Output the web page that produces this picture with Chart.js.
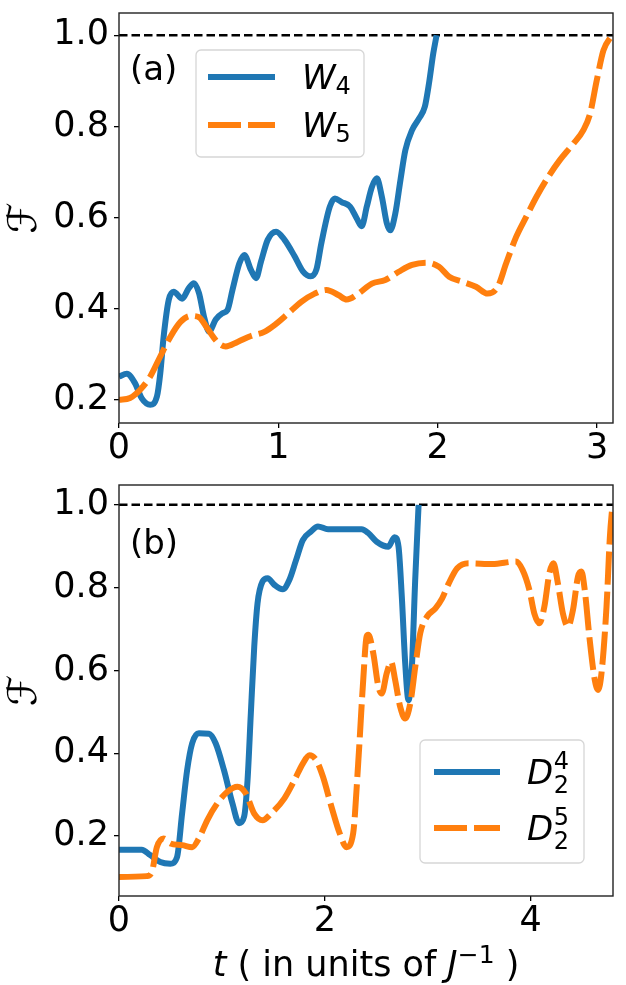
<!DOCTYPE html>
<html>
<head>
<meta charset="utf-8">
<script src="https://cdn.jsdelivr.net/npm/chart.js@4.4.1/dist/chart.umd.min.js"></script>
<style>
  body { margin: 0; background: #fff; }
  #wrap { position: relative; width: 626px; height: 985px; }
  canvas { position: absolute; left: 0; }
</style>
</head>
<body>
<div id="wrap">
  <canvas id="panelA" width="626" height="470" style="top:0"></canvas>
  <canvas id="panelB" width="626" height="515" style="top:470px"></canvas>
</div>
<script>
const blue = '#1f77b4';
const orange = '#ff7f0e';
const family = "'DejaVu Sans', sans-serif";
const tickSize = 35;

// panel (a): W4 and W5
const w4Time = [0, 0.049, 0.101, 0.143, 0.196, 0.238, 0.259, 0.280, 0.312, 0.343, 0.396, 0.438, 0.470, 0.502,
    0.533, 0.565, 0.607, 0.649, 0.681, 0.712, 0.755, 0.786, 0.828, 0.860, 0.891, 0.933, 0.986, 1.039, 1.102,
    1.154, 1.203, 1.239, 1.270, 1.323, 1.355, 1.397, 1.450, 1.492, 1.523, 1.555, 1.587, 1.618, 1.650, 1.681,
    1.702, 1.734, 1.766, 1.797, 1.839, 1.882, 1.919, 1.945, 1.972, 1.993];
const w4Fid = [0.251, 0.257, 0.236, 0.203, 0.189, 0.207, 0.258, 0.338, 0.419, 0.437, 0.422, 0.445, 0.456, 0.434,
    0.383, 0.350, 0.376, 0.390, 0.397, 0.441, 0.499, 0.518, 0.485, 0.467, 0.503, 0.551, 0.569, 0.551, 0.515,
    0.482, 0.471, 0.486, 0.544, 0.624, 0.642, 0.634, 0.624, 0.598, 0.581, 0.624, 0.667, 0.686, 0.645, 0.587,
    0.572, 0.609, 0.682, 0.748, 0.792, 0.817, 0.843, 0.894, 0.960, 1.0];
const w5Time = [0, 0.069, 0.133, 0.196, 0.259, 0.322, 0.386, 0.449, 0.502, 0.554, 0.617, 0.670, 0.744, 0.828,
    0.912, 0.976, 1.060, 1.144, 1.228, 1.302, 1.376, 1.429, 1.502, 1.587, 1.671, 1.755, 1.839, 1.930, 2.008,
    2.072, 2.156, 2.240, 2.313, 2.377, 2.429, 2.493, 2.556, 2.619, 2.693, 2.766, 2.851, 2.914, 2.956, 2.998,
    3.040, 3.093];
const w5Fid = [0.200, 0.204, 0.222, 0.251, 0.295, 0.338, 0.371, 0.384, 0.381, 0.357, 0.327, 0.317, 0.327, 0.340,
    0.349, 0.364, 0.389, 0.415, 0.433, 0.441, 0.430, 0.420, 0.433, 0.455, 0.463, 0.481, 0.496, 0.501, 0.492,
    0.470, 0.459, 0.448, 0.433, 0.448, 0.499, 0.558, 0.602, 0.645, 0.689, 0.726, 0.762, 0.792, 0.828, 0.901,
    0.967, 1.0];

// panel (b): D2^4 and D2^5
const d4Time = [0, 0.220, 0.303, 0.401, 0.499, 0.564, 0.613, 0.662, 0.711, 0.776, 0.874, 0.939, 1.020, 1.102,
    1.167, 1.216, 1.249, 1.281, 1.314, 1.346, 1.395, 1.444, 1.509, 1.591, 1.656, 1.721, 1.786, 1.868, 1.933,
    2.031, 2.194, 2.357, 2.422, 2.504, 2.618, 2.677, 2.716, 2.748, 2.781, 2.813, 2.846, 2.878, 2.911];
const d4Fid = [0.167, 0.167, 0.154, 0.137, 0.133, 0.149, 0.254, 0.359, 0.424, 0.448, 0.447, 0.424, 0.359, 0.279,
    0.231, 0.247, 0.335, 0.496, 0.657, 0.762, 0.815, 0.823, 0.807, 0.796, 0.819, 0.867, 0.915, 0.936, 0.948,
    0.941, 0.941, 0.941, 0.932, 0.911, 0.899, 0.922, 0.899, 0.778, 0.617, 0.528, 0.609, 0.819, 1.0];
const d5Time = [0, 0.270, 0.319, 0.368, 0.433, 0.499, 0.613, 0.711, 0.776, 0.857, 0.955, 1.053, 1.151, 1.232,
    1.314, 1.395, 1.477, 1.607, 1.705, 1.786, 1.851, 1.917, 1.982, 2.064, 2.145, 2.210, 2.275, 2.324, 2.373,
    2.406, 2.422, 2.471, 2.520, 2.553, 2.601, 2.644, 2.683, 2.732, 2.781, 2.830, 2.879, 2.927, 2.993, 3.075,
    3.140, 3.205, 3.286, 3.400, 3.628, 3.856, 3.921, 3.987, 4.035, 4.084, 4.133, 4.182, 4.221, 4.264, 4.313,
    4.362, 4.411, 4.460, 4.493, 4.525, 4.574, 4.623, 4.655, 4.688, 4.737, 4.770, 4.795];
const d5Fid = [0.101, 0.103, 0.113, 0.173, 0.194, 0.182, 0.178, 0.173, 0.194, 0.238, 0.279, 0.307, 0.319, 0.303,
    0.254, 0.238, 0.254, 0.291, 0.335, 0.375, 0.395, 0.383, 0.343, 0.271, 0.206, 0.173, 0.206, 0.375, 0.577,
    0.682, 0.686, 0.641, 0.561, 0.544, 0.593, 0.621, 0.577, 0.512, 0.484, 0.520, 0.609, 0.690, 0.730, 0.750,
    0.774, 0.811, 0.847, 0.859, 0.857, 0.863, 0.843, 0.795, 0.738, 0.714, 0.754, 0.835, 0.859, 0.811, 0.738,
    0.706, 0.746, 0.827, 0.839, 0.795, 0.673, 0.577, 0.553, 0.593, 0.754, 0.924, 1.0];

const targetFid = 1.0;
const fidTicks = [0.2, 0.4, 0.6, 0.8, 1.0];
const timeTicksA = [0, 1, 2, 3];
const timeTicksB = [0, 2, 4];
const timeMaxA = 3.1;
const timeMaxB = 4.8;

const toPoints = (ts, fs) => ts.map((t, i) => ({ x: t, y: fs[i] }));

const fontOf = (size, italic) => `${italic ? 'italic ' : ''}${Math.round(size)}px ${family}`;

// draws a run of text pieces (italic letters, sub/superscripts) starting at x
const drawRich = (ctx, parts, x, y, size, align) => {
    const widthOf = (p) => {
        if (p.sup !== undefined) {
            ctx.font = fontOf(size * 0.7, false);
            return Math.max(ctx.measureText(p.sup).width, ctx.measureText(p.sub).width);
        }
        ctx.font = fontOf(size * (p.scale || 1), p.italic);
        return ctx.measureText(p.text).width;
    };
    const total = parts.reduce((s, p) => s + widthOf(p) + (p.gap || 0) * size, 0);
    let cx = align === 'center' ? x - total / 2 : x;
    ctx.textAlign = 'left';
    ctx.textBaseline = 'alphabetic';
    ctx.fillStyle = '#000';
    for (const p of parts) {
        const w = widthOf(p);
        if (p.sup !== undefined) {
            ctx.font = fontOf(size * 0.7, false);
            ctx.fillText(p.sup, cx, y - size * 0.44);
            ctx.fillText(p.sub, cx, y + size * 0.27);
        } else {
            ctx.font = fontOf(size * (p.scale || 1), p.italic);
            ctx.fillText(p.text, cx, y + (p.dy || 0) * size);
        }
        cx += w + (p.gap || 0) * size;
    }
};

const decor = (panel) => ({
    id: 'decor',
    afterDatasetsDraw(chart) {
        const { ctx, chartArea: a } = chart;
        ctx.save();
        ctx.strokeStyle = '#222';
        ctx.lineWidth = 1.4;
        ctx.strokeRect(a.left, a.top, a.right - a.left, a.bottom - a.top);
        ctx.restore();
    },
    afterDraw(chart) {
        const { ctx } = chart;
        ctx.save();
        ctx.fillStyle = '#000';
        ctx.font = fontOf(34, false);
        ctx.textAlign = 'left';
        ctx.textBaseline = 'alphabetic';
        ctx.fillText(panel.tag, 130, panel.tagY);

        const lg = panel.legend;
        ctx.beginPath();
        ctx.roundRect(lg.x, lg.y, lg.w, lg.h, 5);
        ctx.fillStyle = 'rgba(255,255,255,0.8)';
        ctx.fill();
        ctx.strokeStyle = '#d6d6d6';
        ctx.lineWidth = 1.3;
        ctx.stroke();
        lg.items.forEach((item, i) => {
            const ds = chart.data.datasets[i];
            const ly = lg.rowY[i];
            ctx.beginPath();
            ctx.setLineDash(ds.borderDash || []);
            ctx.lineCap = 'butt';
            ctx.strokeStyle = ds.borderColor;
            ctx.lineWidth = ds.borderWidth;
            ctx.moveTo(lg.lineX0, ly);
            ctx.lineTo(lg.lineX1, ly);
            ctx.stroke();
            ctx.setLineDash([]);
            drawRich(ctx, item, lg.textX, ly + 12, 34, 'left');
        });

        if (panel.xTitle) {
            drawRich(ctx, panel.xTitle, (chart.chartArea.left + chart.chartArea.right) / 2, panel.xTitleY, 35, 'center');
        }
        ctx.restore();
    }
});

const makePanel = (canvasId, panel) => new Chart(document.getElementById(canvasId), {
    type: 'line',
    data: {
        datasets: [
            {
                data: toPoints(panel.firstT, panel.firstF),
                borderColor: blue,
                borderWidth: 6,
                pointRadius: 0,
                cubicInterpolationMode: 'monotone',
                clip: 0,
                order: 2,
            },
            {
                data: toPoints(panel.secondT, panel.secondF),
                borderColor: orange,
                borderWidth: 6,
                borderDash: [33, 7],
                pointRadius: 0,
                cubicInterpolationMode: 'monotone',
                clip: 0,
                order: 1,
            },
            {
                data: toPoints([0, panel.xMax], [targetFid, targetFid]),
                borderColor: '#000',
                borderWidth: 2.5,
                borderDash: [8.5, 4],
                pointRadius: 0,
                clip: 0,
                order: 3,
            },
        ],
    },
    options: {
        responsive: false,
        animation: false,
        events: [],
        layout: { padding: { top: panel.padTop, right: 13, left: 0, bottom: 0 } },
        plugins: { legend: { display: false }, tooltip: { enabled: false } },
        scales: {
            x: {
                type: 'linear',
                min: 0,
                max: panel.xMax,
                afterBuildTicks: (s) => { s.ticks = panel.xTicks.map((v) => ({ value: v })); },
                afterFit: (s) => { s.height = panel.xAxisHeight; s.paddingLeft = 0; s.paddingRight = 0; },
                grid: { drawOnChartArea: false, tickLength: 5, color: '#000', lineWidth: 1.3 },
                border: { display: false },
                ticks: { font: { size: tickSize, family }, color: '#000', padding: 0, maxRotation: 0, autoSkip: false,
                    callback: (v) => String(v) },
            },
            y: {
                min: panel.yMin,
                max: panel.yMax,
                afterBuildTicks: (s) => { s.ticks = fidTicks.map((v) => ({ value: v })); },
                afterFit: (s) => { s.width = 119; s.paddingTop = 0; s.paddingBottom = 0; },
                grid: { drawOnChartArea: false, tickLength: 5, color: '#000', lineWidth: 1.3 },
                border: { display: false },
                ticks: { font: { size: tickSize, family }, color: '#000', padding: 5, autoSkip: false,
                    callback: (v) => v.toFixed(1) },
                title: { display: true, text: 'ℱ', color: '#000', font: { size: 40, family }, padding: { top: 2, bottom: 0 } },
            },
        },
    },
    plugins: [decor(panel)],
});

makePanel('panelA', {
    firstT: w4Time, firstF: w4Fid, secondT: w5Time, secondF: w5Fid,
    xMax: timeMaxA, xTicks: timeTicksA, yMin: 0.149, yMax: 1.049,
    padTop: 13, xAxisHeight: 47,
    tag: '(a)', tagY: 80,
    legend: {
        x: 196, y: 50, w: 168, h: 107, lineX0: 208, lineX1: 275, textX: 302, rowY: [77, 125],
        items: [
            [{ text: 'W', italic: true }, { text: '4', scale: 0.7, dy: 0.14 }],
            [{ text: 'W', italic: true }, { text: '5', scale: 0.7, dy: 0.14 }],
        ],
    },
});

makePanel('panelB', {
    firstT: d4Time, firstF: d4Fid, secondT: d5Time, secondF: d5Fid,
    xMax: timeMaxB, xTicks: timeTicksB, yMin: 0.055, yMax: 1.048,
    padTop: 15, xAxisHeight: 89,
    tag: '(b)', tagY: 84,
    legend: {
        x: 420, y: 270, w: 164, h: 123, lineX0: 434, lineX1: 500, textX: 527, rowY: [302, 358],
        items: [
            [{ text: 'D', italic: true, gap: 0.02 }, { sup: '4', sub: '2' }],
            [{ text: 'D', italic: true, gap: 0.02 }, { sup: '5', sub: '2' }],
        ],
    },
    xTitle: [{ text: 't', italic: true }, { text: ' ( in units of ' }, { text: 'J', italic: true },
        { text: '−1', scale: 0.7, dy: -0.38 }, { text: ' )' }],
    xTitleY: 506,
});
</script>
</body>
</html>
